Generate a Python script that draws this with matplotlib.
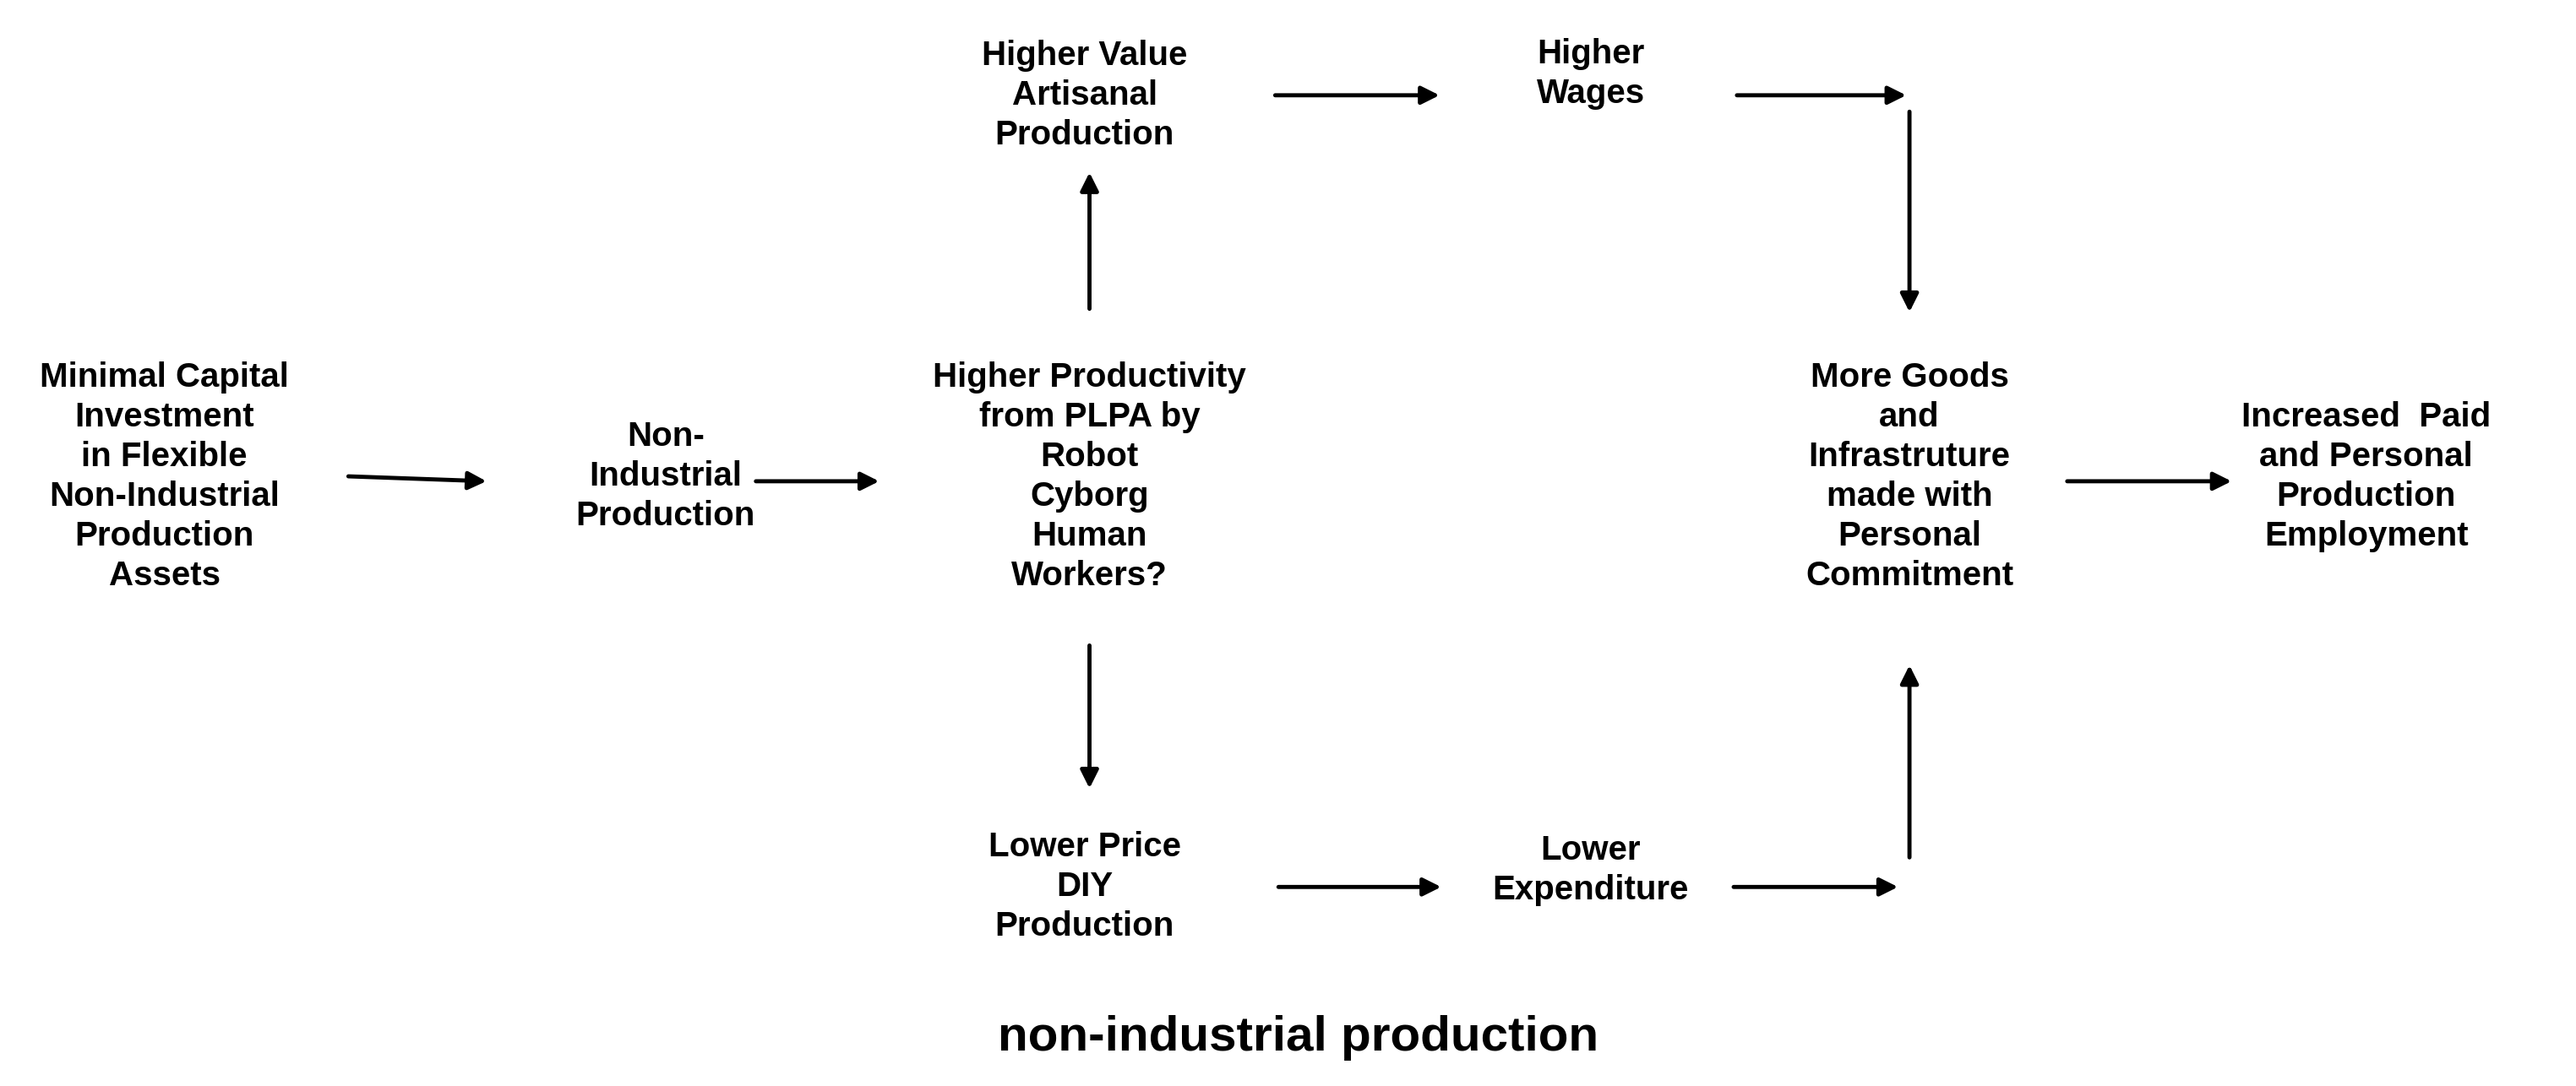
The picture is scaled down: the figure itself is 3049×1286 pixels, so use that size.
import matplotlib.pyplot as plt

plt.rcParams['font.family'] = ['Liberation Sans', 'DejaVu Sans']

# node labels
labels = [
    "Minimal Capital\nInvestment\nin Flexible\nNon-Industrial\nProduction\nAssets",
    "Non-\nIndustrial\nProduction",
    "Higher Productivity\nfrom PLPA by\nRobot\nCyborg\nHuman\nWorkers?",
    "Higher Value\nArtisanal\nProduction",
    "Higher\nWages",
    "Lower Price\nDIY\nProduction",
    "Lower\nExpenditure",
    "More Goods\nand\nInfrastruture\nmade with\nPersonal\nCommitment",
    "Increased  Paid\nand Personal\nProduction\nEmployment",
]
title = "non-industrial production"

# layout, in pixels of the 3049x1286 picture (y down)
S = 1.945
node_xy = [(100, 290), (405, 290), (663, 290), (660, 58), (968, 45),
           (660, 540), (968, 530), (1162, 290), (1440, 290)]
arrows = [((212, 290), (296, 293)), ((460, 293), (535, 293)),
          ((663, 188), (663, 105)), ((663, 393), (663, 480)),
          ((776, 58), (876, 58)), ((1057, 58), (1160, 58)),
          ((1162, 68), (1162, 190)), ((778, 540), (877, 540)),
          ((1055, 540), (1155, 540)), ((1162, 522), (1162, 405)),
          ((1258, 293), (1358, 293))]

fig = plt.figure(figsize=(30.49, 12.86), dpi=100)
ax = fig.add_axes([0, 0, 1, 1])
ax.set_xlim(0, 3049)
ax.set_ylim(1286, 0)
ax.axis('off')

for lab, (x, y) in zip(labels, node_xy):
    ax.text(x * S, y * S, lab, ha='center', va='center', fontsize=29,
            fontweight='bold', linespacing=1.3)

for (x0, y0), (x1, y1) in arrows:
    ax.annotate('', xy=(x1 * S, y1 * S), xytext=(x0 * S, y0 * S),
                arrowprops=dict(arrowstyle='-|>', color='black', lw=3.5,
                                mutation_scale=32, shrinkA=0, shrinkB=0))

ax.text(790 * S, 632 * S, title, ha='center', va='center', fontsize=42,
        fontweight='bold')

fig.savefig('out.png', dpi=100, facecolor='white')
